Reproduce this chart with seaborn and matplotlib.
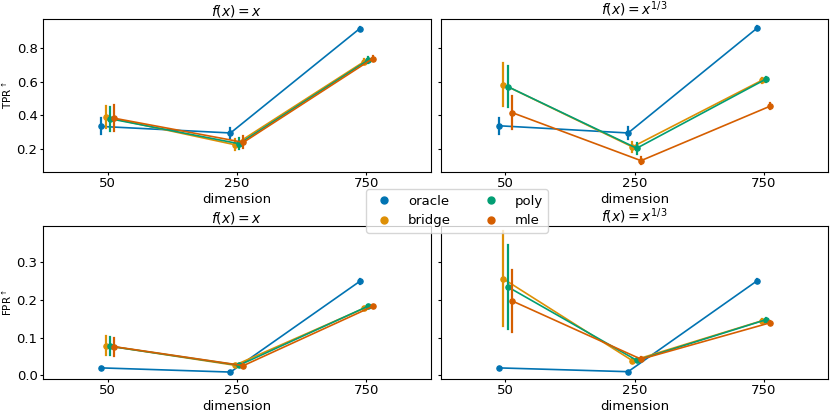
import pandas as pd
import seaborn as sns
import matplotlib.pyplot as plt
from matplotlib.lines import Line2D

# Categories
dims = ["50", "250", "750"]
methods = ["oracle", "bridge", "poly", "mle"]

# TPR, f(x) = x  (rows follow methods, columns follow dims)
tpr_lin = [[0.334, 0.295, 0.917],
           [0.390, 0.225, 0.720],
           [0.380, 0.231, 0.730],
           [0.383, 0.239, 0.738]]
tpr_lin_err = [[0.048, 0.030, 0.010],
               [0.066, 0.032, 0.015],
               [0.072, 0.032, 0.015],
               [0.078, 0.035, 0.015]]

# TPR, f(x) = x^(1/3)
tpr_cub = [[0.338, 0.295, 0.921],
           [0.584, 0.212, 0.608],
           [0.572, 0.204, 0.616],
           [0.417, 0.130, 0.455]]
tpr_cub_err = [[0.048, 0.035, 0.010],
               [0.127, 0.030, 0.015],
               [0.124, 0.032, 0.015],
               [0.099, 0.020, 0.020]]

# FPR, f(x) = x
fpr_lin = [[0.020, 0.009, 0.248],
           [0.079, 0.027, 0.177],
           [0.077, 0.027, 0.183],
           [0.076, 0.026, 0.182]]
fpr_lin_err = [[0.003, 0.002, 0.007],
               [0.025, 0.003, 0.004],
               [0.024, 0.003, 0.004],
               [0.024, 0.003, 0.004]]

# FPR, f(x) = x^(1/3)
fpr_cub = [[0.020, 0.010, 0.250],
           [0.255, 0.039, 0.144],
           [0.234, 0.040, 0.147],
           [0.197, 0.043, 0.139]]
fpr_cub_err = [[0.003, 0.002, 0.005],
               [0.125, 0.005, 0.004],
               [0.111, 0.005, 0.004],
               [0.082, 0.005, 0.004]]


def to_long(means, errs):
    # three rows per point: low, centre, high -> median + full-range interval
    rows = []
    for i, m in enumerate(methods):
        for j, d in enumerate(dims):
            c, e = means[i][j], errs[i][j]
            for v in (c - e, c, c + e):
                rows.append({"method": m, "dimension": d, "value": v})
    return pd.DataFrame(rows)


plt.rcParams["font.size"] = 9.5
plt.rcParams["xtick.major.size"] = 2.5
plt.rcParams["ytick.major.size"] = 2.5
plt.rcParams["xtick.major.pad"] = 1.5
plt.rcParams["ytick.major.pad"] = 1.5
plt.rcParams["axes.titlepad"] = 1.5
plt.rcParams["axes.labelpad"] = 2
palette = sns.color_palette("colorblind", 4)

fig, axes = plt.subplots(2, 2, figsize=(8.3, 4.15), dpi=100, sharey="row")
fig.subplots_adjust(left=0.052, right=0.998, top=0.954, bottom=0.087,
                    wspace=0.026, hspace=0.36)

panels = [
    (axes[0, 0], tpr_lin, tpr_lin_err, r"$f(x) = x$"),
    (axes[0, 1], tpr_cub, tpr_cub_err, r"$f(x) = x^{1/3}$"),
    (axes[1, 0], fpr_lin, fpr_lin_err, r"$f(x) = x$"),
    (axes[1, 1], fpr_cub, fpr_cub_err, r"$f(x) = x^{1/3}$"),
]

for ax, means, errs, title in panels:
    df = to_long(means, errs)
    sns.pointplot(data=df, x="dimension", y="value", hue="method",
                  order=dims, hue_order=methods, palette=palette,
                  estimator="median", errorbar=("pi", 100), dodge=True,
                  markersize=3.8, linewidth=1.2, err_kws={"linewidth": 1.6},
                  legend=False, ax=ax)
    ax.set_title(title, fontsize=10)
    ax.set_xlabel("dimension")
    ax.set_ylabel("")

axes[0, 0].set_ylabel(r"TPR$^\uparrow$", fontsize=7.5)
axes[1, 0].set_ylabel(r"FPR$^\uparrow$", fontsize=7.5)
axes[0, 0].set_ylim(0.065, 0.974)
axes[1, 0].set_ylim(-0.009, 0.393)
axes[0, 0].set_yticks([0.2, 0.4, 0.6, 0.8])
axes[1, 0].set_yticks([0.0, 0.1, 0.2, 0.3])

handles = [Line2D([], [], marker="o", linestyle="", markersize=5, color=c)
           for c in palette]
fig.legend(handles, methods, loc="center", bbox_to_anchor=(0.5506, 0.4916),
           ncol=2, fontsize=9.5)

plt.savefig("out.png", dpi=100)
